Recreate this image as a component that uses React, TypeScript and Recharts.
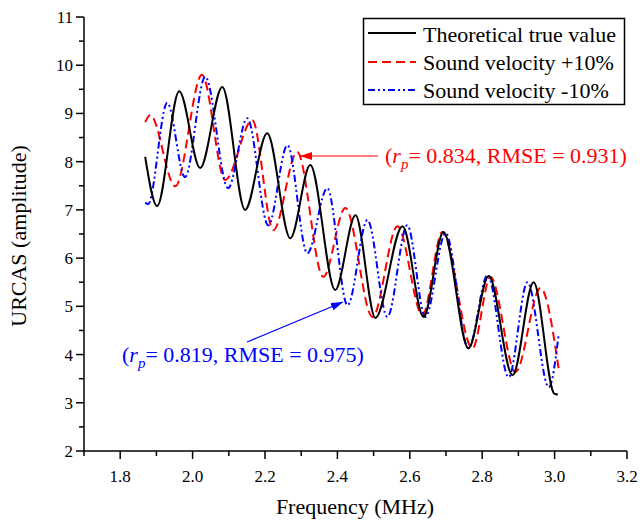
import { LineChart, Line, XAxis, YAxis } from 'recharts';

// frequency (MHz) / amplitude, peaks and troughs
const trueFreq = [1.869, 1.902, 1.963, 2.021, 2.082, 2.145, 2.206, 2.27, 2.325, 2.394, 2.45, 2.505, 2.58, 2.638, 2.693, 2.762, 2.818, 2.884, 2.942, 2.999, 3.009];
const trueAmp = [8.1, 7.08, 9.46, 7.87, 9.55, 7.0, 8.59, 6.41, 7.93, 5.34, 6.89, 4.76, 6.66, 4.78, 6.54, 4.13, 5.63, 3.57, 5.5, 3.19, 3.17];

const plusFreq = [1.869, 1.883, 1.952, 2.026, 2.09, 2.165, 2.223, 2.289, 2.361, 2.422, 2.497, 2.566, 2.635, 2.69, 2.773, 2.823, 2.892, 2.961, 3.011];
const plusAmp = [8.82, 8.97, 7.49, 9.8, 7.62, 8.86, 6.58, 8.2, 5.61, 7.04, 4.78, 6.66, 4.82, 6.54, 4.13, 5.61, 3.64, 5.38, 3.72];

const minusFreq = [1.869, 1.877, 1.93, 1.979, 2.035, 2.098, 2.151, 2.209, 2.262, 2.317, 2.372, 2.428, 2.483, 2.538, 2.593, 2.643, 2.699, 2.762, 2.815, 2.873, 2.925, 2.984, 3.011];
const minusAmp = [7.15, 7.12, 9.22, 7.68, 9.76, 7.45, 8.9, 6.68, 8.34, 6.1, 7.45, 5.02, 6.79, 4.78, 6.68, 4.78, 6.52, 4.13, 5.65, 3.53, 5.5, 3.32, 4.4];

const xTicks = [1.7, 1.8, 1.9, 2.0, 2.1, 2.2, 2.3, 2.4, 2.5, 2.6, 2.7, 2.8, 2.9, 3.0, 3.1, 3.2];
const yTicks = [2, 2.5, 3, 3.5, 4, 4.5, 5, 5.5, 6, 6.5, 7, 7.5, 8, 8.5, 9, 9.5, 10, 10.5, 11];

const seriesNames = ['Theoretical true value', 'Sound velocity +10%', 'Sound velocity -10%'];

const toRows = (f: number[], a: number[]) => f.map((x, i) => ({ f: x, v: a[i] }));
const trueData = toRows(trueFreq, trueAmp);
const plusData = toRows(plusFreq, plusAmp);
const minusData = toRows(minusFreq, minusAmp);

const FONT = 'Liberation Serif, Tinos, Times New Roman, DejaVu Serif, serif';
const RED = '#ff0000';
const BLUE = '#0000ff';
const BLUE_DASH = '7 3 2 3 2 3';
const txt = { fontFamily: FONT };

const XTick = ({ x, y, payload }: any) => {
  const v = payload.value;
  const major = Math.round(v * 10) % 2 === 0;
  return (
    <g>
      <line x1={x} x2={x} y1={y} y2={y + (major ? 8 : 5)} stroke="#000" strokeWidth={1.5} />
      {major && (
        <text x={x} y={y + 31} textAnchor="middle" fontSize={17} style={txt} fill="#000">
          {v.toFixed(1)}
        </text>
      )}
    </g>
  );
};

const YTick = ({ x, y, payload }: any) => {
  const v = payload.value;
  const major = Number.isInteger(v);
  return (
    <g>
      <line x1={x} x2={x - (major ? 8 : 5)} y1={y} y2={y} stroke="#000" strokeWidth={1.5} />
      {major && (
        <text x={x - 11} y={y + 6} textAnchor="end" fontSize={17} style={txt} fill="#000">
          {v}
        </text>
      )}
    </g>
  );
};

const Annotation = ({ x, y, color, r, rmse }: { x: number; y: number; color: string; r: string; rmse: string }) => (
  <text x={x} y={y} fontSize={22} style={txt} fill={color}>
    (<tspan fontStyle="italic">r</tspan>
    <tspan fontStyle="italic" fontSize={15} dy={6}>p</tspan>
    <tspan dy={-6}>{`= ${r}, RMSE = ${rmse})`}</tspan>
  </text>
);

export default function App() {
  return (
    <div style={{ position: 'absolute', left: 0, top: 0, width: 640, height: 521, background: '#fff', fontFamily: FONT }}>
      <LineChart width={640} height={521} margin={{ top: 17, right: 13, bottom: 0, left: 0 }}>
        <XAxis
          dataKey="f"
          type="number"
          domain={[1.7, 3.2]}
          ticks={xTicks}
          interval={0}
          allowDataOverflow
          height={70}
          tickSize={0}
          tickMargin={0}
          tickLine={false}
          axisLine={{ stroke: '#000', strokeWidth: 1.5 }}
          tick={<XTick />}
        />
        <YAxis
          type="number"
          domain={[2, 11]}
          ticks={yTicks}
          interval={0}
          allowDataOverflow
          width={84}
          tickSize={0}
          tickMargin={0}
          tickLine={false}
          axisLine={{ stroke: '#000', strokeWidth: 1.5 }}
          tick={<YTick />}
        />
        <Line data={plusData} dataKey="v" type="monotone" stroke={RED} strokeWidth={2} strokeDasharray="9 5" dot={false} isAnimationActive={false} />
        <Line data={minusData} dataKey="v" type="monotone" stroke={BLUE} strokeWidth={2} strokeDasharray={BLUE_DASH} dot={false} isAnimationActive={false} />
        <Line data={trueData} dataKey="v" type="monotone" stroke="#000" strokeWidth={2} dot={false} isAnimationActive={false} />
      </LineChart>

      <svg width={640} height={521} style={{ position: 'absolute', left: 0, top: 0, pointerEvents: 'none' }}>
        <defs>
          <marker id="headRed" markerWidth="12" markerHeight="8" refX="12" refY="4" orient="auto" markerUnits="userSpaceOnUse">
            <path d="M0,0 L12,4 L0,8 z" fill={RED} />
          </marker>
          <marker id="headBlue" markerWidth="12" markerHeight="8" refX="12" refY="4" orient="auto" markerUnits="userSpaceOnUse">
            <path d="M0,0 L12,4 L0,8 z" fill={BLUE} />
          </marker>
        </defs>

        {/* legend */}
        <rect x={363.5} y={18.5} width={261} height={86} fill="#fff" stroke="#000" strokeWidth={1.5} />
        <line x1={368} x2={416} y1={33} y2={33} stroke="#000" strokeWidth={2} />
        <line x1={368} x2={416} y1={62} y2={62} stroke={RED} strokeWidth={2} strokeDasharray="9 5" />
        <line x1={368} x2={416} y1={90} y2={90} stroke={BLUE} strokeWidth={2} strokeDasharray={BLUE_DASH} />
        {seriesNames.map((s, i) => (
          <text key={s} x={423} y={42 + i * 28} fontSize={22} style={txt} fill="#000">
            {s}
          </text>
        ))}

        {/* annotations */}
        <line x1={378} y1={156} x2={300} y2={156} stroke={RED} strokeWidth={1.2} markerEnd="url(#headRed)" />
        <Annotation x={385} y={163} color={RED} r="0.834" rmse="0.931" />
        <line x1={247} y1={342} x2={343} y2={302} stroke={BLUE} strokeWidth={1.2} markerEnd="url(#headBlue)" />
        <Annotation x={122} y={362} color={BLUE} r="0.819" rmse="0.975" />

        {/* axis titles */}
        <text x={355} y={514} textAnchor="middle" fontSize={22} style={txt} fill="#000">
          Frequency (MHz)
        </text>
        <text transform="translate(26,236) rotate(-90)" textAnchor="middle" fontSize={22} style={txt} fill="#000">
          URCAS (amplitude)
        </text>
      </svg>
    </div>
  );
}
